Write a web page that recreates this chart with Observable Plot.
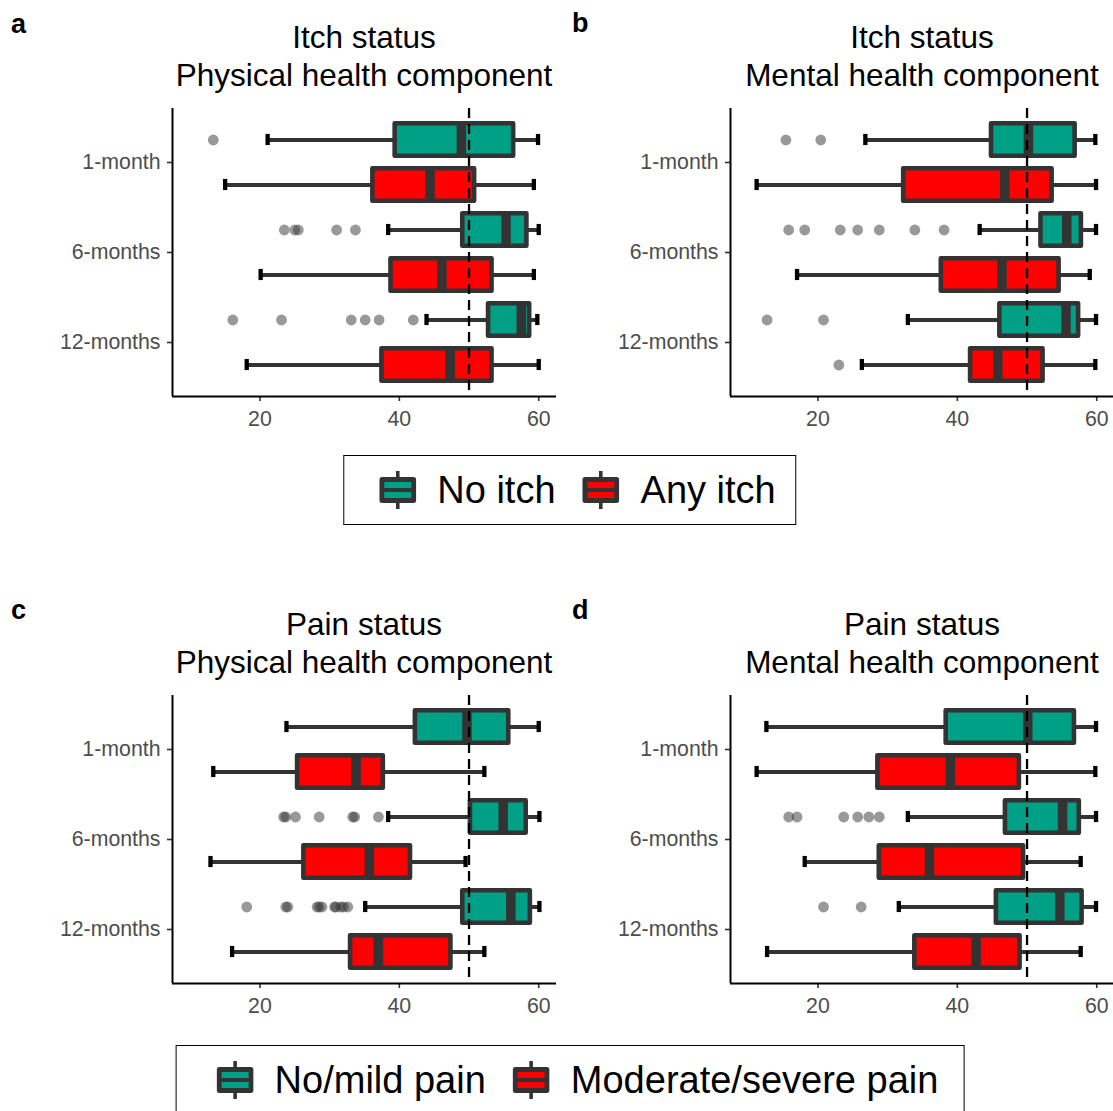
<!DOCTYPE html>
<html>
<head>
<meta charset="utf-8">
<script src="https://cdn.jsdelivr.net/npm/d3@7"></script>
<script src="https://cdn.jsdelivr.net/npm/@observablehq/plot@0.6"></script>
<style>
  html, body { margin: 0; padding: 0; background: #fff; }
  body { width: 1113px; height: 1111px; overflow: hidden; position: relative;
         font-family: "Liberation Sans", Arial, sans-serif; }
  .panel { position: absolute; }
  .tag { position: absolute; font-weight: bold; font-size: 27px; line-height: 27px; color: #000; }
  .title { position: absolute; width: 384px; text-align: center; font-size: 31.5px; line-height: 38px; color: #000; }
  .legend { position: absolute; display: flex; align-items: center; box-sizing: border-box;
            height: 70px; border: 1.6px solid #000; padding: 0 20px 0 35px;
            font-size: 38px; color: #000; transform: translateX(-50%); white-space: nowrap; }
  .legend svg { display: block; margin-right: 21px; }
  .legend .item + .item { margin-left: 27px; }
  .legend .item { display: flex; align-items: center; }
</style>
</head>
<body>
<script>
// Follow-up time points (y axis) and the two groups compared in each panel
const timepoints = ["1-month", "6-months", "12-months"];
const itchGroups = ["No itch", "Any itch"];
const painGroups = ["No/mild pain", "Moderate/severe pain"];
const groupColors = ["#00A087", "#FF0000"];
const xTicks = [20, 40, 60];

// Box summaries: [time point, group index, lower whisker, Q1, median, Q3, upper whisker]
const itchPhysicalBoxes = [
  ["1-month", 0, 21.1, 39.4, 48.9, 56.4, 59.9],
  ["1-month", 1, 15.0, 36.2, 44.4, 50.8, 59.3],
  ["6-months", 0, 38.4, 49.1, 55.3, 58.3, 60.0],
  ["6-months", 1, 20.1, 38.8, 46.1, 53.3, 59.3],
  ["12-months", 0, 43.9, 52.8, 57.5, 58.7, 59.8],
  ["12-months", 1, 18.1, 37.5, 47.3, 53.3, 60.0]
];
const itchMentalBoxes = [
  ["1-month", 0, 26.8, 44.9, 50.2, 56.9, 59.8],
  ["1-month", 1, 11.2, 32.3, 46.8, 53.6, 59.9],
  ["6-months", 0, 43.2, 52.0, 55.7, 57.8, 59.9],
  ["6-months", 1, 17.0, 37.7, 46.4, 54.6, 59.0],
  ["12-months", 0, 32.9, 46.1, 55.6, 57.4, 59.9],
  ["12-months", 1, 26.3, 41.9, 45.8, 52.3, 59.8]
];
const painPhysicalBoxes = [
  ["1-month", 0, 23.8, 42.3, 49.7, 55.7, 60.0],
  ["1-month", 1, 13.3, 25.4, 33.8, 37.7, 52.2],
  ["6-months", 0, 38.4, 50.2, 54.9, 58.2, 60.1],
  ["6-months", 1, 12.9, 26.3, 35.7, 41.6, 49.5],
  ["12-months", 0, 35.1, 49.1, 56.0, 58.8, 60.1],
  ["12-months", 1, 16.0, 33.0, 37.0, 47.4, 52.2]
];
const painMentalBoxes = [
  ["1-month", 0, 12.6, 38.4, 50.1, 56.8, 59.9],
  ["1-month", 1, 11.2, 28.6, 39.0, 48.9, 59.8],
  ["6-months", 0, 32.9, 46.9, 55.1, 57.5, 59.9],
  ["6-months", 1, 18.1, 28.8, 36.0, 49.5, 57.7],
  ["12-months", 0, 31.6, 45.6, 54.7, 57.9, 59.9],
  ["12-months", 1, 12.7, 33.9, 42.7, 49.0, 57.7]
];

// Outlying observations: [time point, group index, values]
const itchPhysicalOutliers = [
  ["1-month", 0, [13.3]],
  ["6-months", 0, [23.5, 25.0, 25.5, 31.0, 33.7]],
  ["12-months", 0, [16.1, 23.1, 33.1, 35.1, 37.1, 42.0]]
];
const itchMentalOutliers = [
  ["1-month", 0, [15.4, 20.4]],
  ["6-months", 0, [15.8, 18.1, 23.2, 25.7, 28.8, 33.9, 38.1]],
  ["12-months", 0, [12.7, 20.8]],
  ["12-months", 1, [23.0]]
];
const painPhysicalOutliers = [
  ["6-months", 0, [23.4, 23.7, 25.1, 28.5, 33.3, 33.6, 37.0]],
  ["12-months", 0, [18.1, 23.7, 24.0, 28.2, 28.5, 28.9, 30.7, 30.9, 31.6, 32.0, 32.6]]
];
const painMentalOutliers = [
  ["6-months", 0, [15.8, 17.0, 23.7, 25.7, 27.3, 28.8]],
  ["12-months", 0, [20.8, 26.2]]
];

// Scale extents (ggplot-style padding around the data)
const xDomain = [7.45, 62.55];
const yDomain = [-0.6, 2.6];
const groupOffset = 0.25;
const boxHalf = 0.18;
const capHalf = 0.062;

const yPos = (t, g) => timepoints.indexOf(t) + (g ? groupOffset : -groupOffset);

function boxPanel(boxes, outliers, groups) {
  const rows = boxes.map(([t, g, lo, q1, med, q3, hi]) =>
    ({t, group: groups[g], lo, q1, med, q3, hi, y: yPos(t, g)}));
  const points = outliers.flatMap(([t, g, vals]) =>
    vals.map(v => ({t, group: groups[g], v, y: yPos(t, g)})));
  return Plot.plot({
    width: 557,
    height: 336,
    marginLeft: 172,
    marginRight: 1,
    marginTop: 8,
    marginBottom: 40,
    style: {fontFamily: "'Liberation Sans', Arial, sans-serif", fontSize: "21.3px", overflow: "visible", background: "transparent"},
    x: {domain: xDomain, label: null},
    y: {domain: yDomain, reverse: true, label: null},
    color: {domain: groups, range: groupColors},
    marks: [
      Plot.axisX({ticks: xTicks, tickSize: 5, tickPadding: 9, stroke: "#333", strokeWidth: 1.6, fill: "#4D4D4D"}),
      Plot.axisY({ticks: [0, 1, 2], tickFormat: i => timepoints[i], tickSize: 5, tickPadding: 7,
                  stroke: "#333", strokeWidth: 1.6, fill: "#4D4D4D"}),
      Plot.ruleX([xDomain[0]], {stroke: "#000", strokeWidth: 2}),
      Plot.ruleY([yDomain[1]], {stroke: "#000", strokeWidth: 2}),
      // whiskers
      Plot.ruleY(rows, {y: "y", x1: "lo", x2: "hi", stroke: "#333", strokeWidth: 4.2}),
      Plot.ruleX(rows, {x: "lo", y1: d => d.y - capHalf, y2: d => d.y + capHalf, stroke: "#000", strokeWidth: 4.3}),
      Plot.ruleX(rows, {x: "hi", y1: d => d.y - capHalf, y2: d => d.y + capHalf, stroke: "#000", strokeWidth: 4.3}),
      // interquartile boxes and medians
      Plot.rect(rows, {x1: "q1", x2: "q3", y1: d => d.y - boxHalf, y2: d => d.y + boxHalf,
                       fill: "group", stroke: "#333", strokeWidth: 4.6, strokeLinejoin: "round"}),
      Plot.ruleX(rows, {x: "med", y1: d => d.y - boxHalf, y2: d => d.y + boxHalf, stroke: "#333", strokeWidth: 9.5}),
      // outliers
      Plot.dot(points, {x: "v", y: "y", r: 5.4, fill: "#333", fillOpacity: 0.5}),
      // reference line at the population norm
      Plot.ruleX([50], {stroke: "#000", strokeWidth: 2.3, strokeDasharray: "10,6"})
    ]
  });
}

function place(el, left, top) {
  el.classList.add("panel");
  el.style.left = left + "px";
  el.style.top = top + "px";
  document.body.appendChild(el);
}

function addText(cls, html, left, top) {
  const d = document.createElement("div");
  d.className = cls;
  d.innerHTML = html;
  d.style.left = left + "px";
  d.style.top = top + "px";
  document.body.appendChild(d);
}

function keyGlyph(color) {
  const svg = d3.create("svg").attr("width", 37).attr("height", 38);
  svg.append("line").attr("x1", 18.5).attr("x2", 18.5).attr("y1", 0).attr("y2", 38)
    .attr("stroke", "#333").attr("stroke-width", 3.6);
  svg.append("rect").attr("x", 0).attr("y", 6).attr("width", 37).attr("height", 26).attr("rx", 3).attr("fill", "#333");
  svg.append("rect").attr("x", 5).attr("y", 11).attr("width", 27).attr("height", 6).attr("fill", color);
  svg.append("rect").attr("x", 5).attr("y", 21).attr("width", 27).attr("height", 6).attr("fill", color);
  return svg.node();
}

function addLegend(groups, centerX, top, extraPad) {
  const box = document.createElement("div");
  box.className = "legend";
  box.style.left = centerX + "px";
  box.style.top = top + "px";
  if (extraPad) box.style.padding = `0 ${20 + extraPad}px 0 ${35 + extraPad}px`;
  groups.forEach((g, i) => {
    const item = document.createElement("div");
    item.className = "item";
    item.appendChild(keyGlyph(groupColors[i]));
    const span = document.createElement("span");
    span.textContent = g;
    item.appendChild(span);
    box.appendChild(item);
  });
  document.body.appendChild(box);
}

// Row 1: itch status
place(boxPanel(itchPhysicalBoxes, itchPhysicalOutliers, itchGroups), 0, 100);
place(boxPanel(itchMentalBoxes, itchMentalOutliers, itchGroups), 558, 100);
addText("tag", "a", 11, 11);
addText("tag", "b", 572, 10);
addText("title", "Itch status<br>Physical health component", 172, 18);
addText("title", "Itch status<br>Mental health component", 730, 18);
addLegend(itchGroups, 570, 455, 0);

// Row 2: pain status
place(boxPanel(painPhysicalBoxes, painPhysicalOutliers, painGroups), 0, 687);
place(boxPanel(painMentalBoxes, painMentalOutliers, painGroups), 558, 687);
addText("tag", "c", 11, 597);
addText("tag", "d", 572, 597);
addText("title", "Pain status<br>Physical health component", 172, 605);
addText("title", "Pain status<br>Mental health component", 730, 605);
addLegend(painGroups, 570, 1045, 5);
</script>
</body>
</html>
